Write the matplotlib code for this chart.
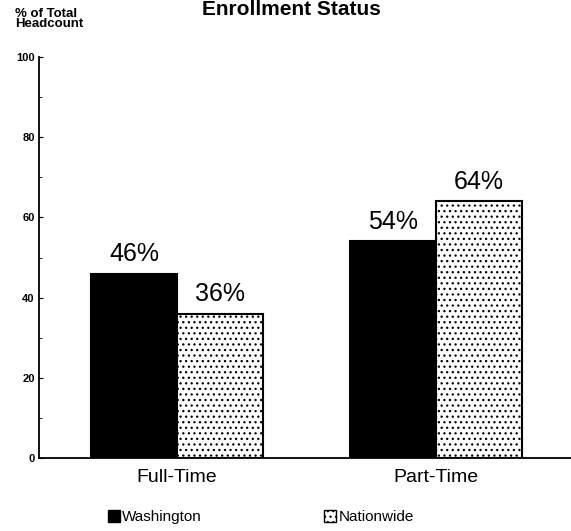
import matplotlib.pyplot as plt
from matplotlib.patches import Patch
from matplotlib.ticker import MultipleLocator

plt.rcParams['font.family'] = ['Liberation Sans', 'DejaVu Sans']

# enrollment shares, percent of total headcount
categories = ['Full-Time', 'Part-Time']
washington = [46, 54]
nationwide = [36, 64]
series_names = ['Washington', 'Nationwide']
yticks = [0, 20, 40, 60, 80, 100]

fig = plt.figure(figsize=(5.71, 5.31), dpi=100)
ax = fig.add_axes([0.068, 0.1375, 0.932, 0.755])

w = 0.332
x = list(range(len(categories)))
xw = [i - w / 2 for i in x]
xn = [i + w / 2 for i in x]

plt.rcParams['hatch.linewidth'] = 0.9
bw = ax.bar(xw, washington, w, color='black', edgecolor='black', linewidth=1.5)
bn = ax.bar(xn, nationwide, w, color='white', edgecolor='black', linewidth=1.5,
            hatch='...')

for bars, vals in ((bw, washington), (bn, nationwide)):
    for b, v in zip(bars, vals):
        ax.text(b.get_x() + b.get_width() / 2, v + 1.8, f'{v}%',
                ha='center', va='bottom', fontsize=18)

ax.set_xlim(-0.533, 1.521)
ax.set_ylim(0, 100)
ax.set_yticks(yticks)
ax.yaxis.set_minor_locator(MultipleLocator(10))
ax.set_xticks(x)
ax.set_xticklabels(categories, fontsize=14)
ax.tick_params(axis='x', length=0, pad=8)
ax.tick_params(axis='y', which='major', direction='in', length=3, pad=3,
               labelsize=8)
ax.tick_params(axis='y', which='minor', direction='in', length=2)
for lab in ax.get_yticklabels():
    lab.set_fontweight('bold')

for s in ('top', 'right'):
    ax.spines[s].set_visible(False)
ax.spines['left'].set_linewidth(1.3)
ax.spines['bottom'].set_linewidth(1.3)

fig.text(0.026, 0.943, '% of Total\nHeadcount', fontsize=9.5, fontweight='bold',
         ha='left', va='bottom', linespacing=0.85)
fig.text(0.51, 0.972, 'Enrollment Status', fontsize=15, fontweight='bold',
         ha='center', va='baseline')

handles = [Patch(facecolor='black', edgecolor='black', label=series_names[0]),
           Patch(facecolor='white', edgecolor='black', hatch='...',
                 label=series_names[1])]
fig.legend(handles=handles, loc='center', bbox_to_anchor=(0.457, 0.026),
           ncol=2, frameon=False, fontsize=11, handlelength=0.8,
           handleheight=0.8, handletextpad=0.15, columnspacing=8.0,
           borderpad=0)

fig.savefig('out.png', dpi=100)
